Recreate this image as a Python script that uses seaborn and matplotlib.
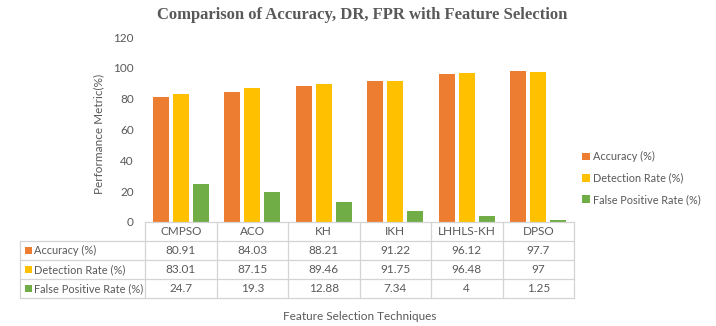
import matplotlib
matplotlib.use("Agg")
import matplotlib.pyplot as plt
from matplotlib.patches import Rectangle, Patch
from matplotlib.lines import Line2D
import seaborn as sns
import pandas as pd

categories = ["CMPSO", "ACO", "KH", "IKH", "LHHLS-KH", "DPSO"]
series_names = ["Accuracy (%)", "Detection Rate (%)", "False Positive Rate (%)"]
accuracy = [80.91, 84.03, 88.21, 91.22, 96.12, 97.7]
detection_rate = [83.01, 87.15, 89.46, 91.75, 96.48, 97]
false_positive_rate = [24.7, 19.3, 12.88, 7.34, 4, 1.25]
accuracy_labels = ["80.91", "84.03", "88.21", "91.22", "96.12", "97.7"]
detection_labels = ["83.01", "87.15", "89.46", "91.75", "96.48", "97"]
fpr_labels = ["24.7", "19.3", "12.88", "7.34", "4", "1.25"]
yticks = [0, 20, 40, 60, 80, 100, 120]

colors = ["#ED7D31", "#FFC000", "#70AD47"]
txt = "#595959"
grid = "#D4D4D4"

sns.set_theme(style="white")
plt.rcParams["font.family"] = ["Lato", "DejaVu Sans"]

rows = []
for name, vals in zip(series_names, [accuracy, detection_rate, false_positive_rate]):
    for c, v in zip(categories, vals):
        rows.append({"Technique": c, "Series": name, "Value": v})
df = pd.DataFrame(rows)

W, H = 716, 326
fig = plt.figure(figsize=(W / 100, H / 100), dpi=100)
X0, X1, Y0, Y120 = 145, 574, 222, 37
ax = fig.add_axes([X0 / W, (H - Y0) / H, (X1 - X0) / W, (Y0 - Y120) / H])

sns.barplot(data=df, x="Technique", y="Value", hue="Series", order=categories,
            hue_order=series_names, palette=colors, width=0.84, gap=0.21,
            saturation=1, legend=False, ax=ax, edgecolor="none")

ax.set_ylim(0, 120)
ax.set_xlim(-0.5, len(categories) - 0.5)
ax.set_yticks(yticks)
ax.set_yticklabels([str(t) for t in yticks], color=txt, fontsize=8.5)
ax.tick_params(axis="y", length=0, pad=8)
ax.set_xticks([])
ax.set_xlabel("")
ax.set_ylabel("")
for s in ax.spines.values():
    s.set_visible(False)


def fx(px):
    return px / W


def fy(py):
    return 1 - py / H


def hline(x0, x1, y):
    fig.add_artist(Line2D([fx(x0), fx(x1)], [fy(y), fy(y)], color=grid, lw=0.9,
                          transform=fig.transFigure))


def vline(x, y0, y1):
    fig.add_artist(Line2D([fx(x), fx(x)], [fy(y0), fy(y1)], color=grid, lw=0.9,
                          transform=fig.transFigure))


# data table drawn below the axes
row_top = [222, 241, 260, 279, 298]
LX = 20
col_w = (X1 - X0) / len(categories)
hline(X0, X1, row_top[0])
for y in row_top[1:]:
    hline(LX, X1, y)
vline(LX, row_top[1], row_top[-1])
for k in range(len(categories) + 1):
    vline(X0 + k * col_w, row_top[0], row_top[-1])

table_rows = [categories, accuracy_labels, detection_labels, fpr_labels]
for r, vals in enumerate(table_rows):
    yc = (row_top[r] + row_top[r + 1]) / 2
    for c, v in enumerate(vals):
        fig.text(fx(X0 + (c + 0.5) * col_w), fy(yc), v, ha="center", va="center",
                 color=txt, fontsize=8.5)
for i, (name, col) in enumerate(zip(series_names, colors)):
    yc = (row_top[i + 1] + row_top[i + 2]) / 2
    fig.patches.append(Rectangle((fx(25), fy(yc + 3.5)), 7 / W, 7 / H,
                                 transform=fig.transFigure, facecolor=col, edgecolor="none"))
    fig.text(fx(34), fy(yc), name, ha="left", va="center", color=txt, fontsize=7.9)

fig.text(fx(99), fy(134), "Performance Metric(%)", ha="center", va="center",
         rotation=90, color=txt, fontsize=8.5)
fig.text(fx(360), fy(316), "Feature Selection Techniques", ha="center", va="center",
         color=txt, fontsize=8.5)
fig.text(fx(362), fy(15), "Comparison of Accuracy, DR, FPR with Feature Selection",
         ha="center", va="center", color=txt, fontsize=12, fontweight="bold",
         family=["Liberation Serif", "DejaVu Serif"])

handles = [Patch(facecolor=c, edgecolor="none", label=n) for c, n in zip(colors, series_names)]
fig.legend(handles=handles, loc="center left", bbox_to_anchor=(fx(582), fy(178)),
           frameon=False, fontsize=7.8, handlelength=0.7, handleheight=0.7,
           handletextpad=0.35, labelspacing=0.95, labelcolor=txt,
           borderpad=0, borderaxespad=0)

fig.savefig("out.png", dpi=100)
